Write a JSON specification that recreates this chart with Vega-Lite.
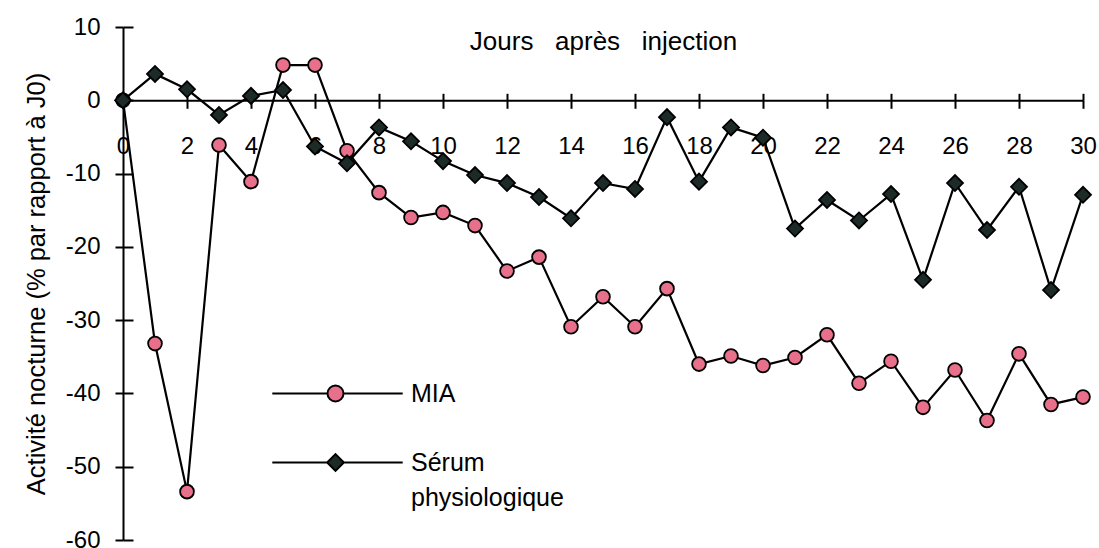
{
  "$schema": "https://vega.github.io/schema/vega-lite/v6.json",
  "width": 960,
  "height": 513,
  "autosize": {"type": "none"},
  "padding": {"left": 123, "top": 27, "right": 16, "bottom": 8},
  "background": "white",
  "config": {
    "view": {"stroke": null},
    "font": "Liberation Sans",
    "axis": {"domainColor": "black", "tickColor": "black", "labelColor": "black", "titleColor": "black", "grid": false, "domainWidth": 2, "tickWidth": 2, "labelFontWeight": "normal", "titleFontWeight": "normal", "labelFont": "Liberation Sans", "titleFont": "Liberation Sans"},
    "legend": {"labelFont": "Liberation Sans", "labelColor": "black"},
    "style": {"guide-label": {"lineHeight": 35}}
  },
  "data": {
    "values": [
      {"day": 0, "serie": "MIA", "v": 0},
      {"day": 1, "serie": "MIA", "v": -33.2},
      {"day": 2, "serie": "MIA", "v": -53.4},
      {"day": 3, "serie": "MIA", "v": -6.1},
      {"day": 4, "serie": "MIA", "v": -11.1},
      {"day": 5, "serie": "MIA", "v": 4.8},
      {"day": 6, "serie": "MIA", "v": 4.8},
      {"day": 7, "serie": "MIA", "v": -6.9},
      {"day": 8, "serie": "MIA", "v": -12.6},
      {"day": 9, "serie": "MIA", "v": -16.0},
      {"day": 10, "serie": "MIA", "v": -15.3},
      {"day": 11, "serie": "MIA", "v": -17.1},
      {"day": 12, "serie": "MIA", "v": -23.3},
      {"day": 13, "serie": "MIA", "v": -21.4},
      {"day": 14, "serie": "MIA", "v": -30.9},
      {"day": 15, "serie": "MIA", "v": -26.8},
      {"day": 16, "serie": "MIA", "v": -30.9},
      {"day": 17, "serie": "MIA", "v": -25.7},
      {"day": 18, "serie": "MIA", "v": -36.0},
      {"day": 19, "serie": "MIA", "v": -34.9},
      {"day": 20, "serie": "MIA", "v": -36.2},
      {"day": 21, "serie": "MIA", "v": -35.1},
      {"day": 22, "serie": "MIA", "v": -32.0},
      {"day": 23, "serie": "MIA", "v": -38.6},
      {"day": 24, "serie": "MIA", "v": -35.6},
      {"day": 25, "serie": "MIA", "v": -41.9},
      {"day": 26, "serie": "MIA", "v": -36.8},
      {"day": 27, "serie": "MIA", "v": -43.7},
      {"day": 28, "serie": "MIA", "v": -34.6},
      {"day": 29, "serie": "MIA", "v": -41.5},
      {"day": 30, "serie": "MIA", "v": -40.5},
      {"day": 0, "serie": "Sérum physiologique", "v": 0},
      {"day": 1, "serie": "Sérum physiologique", "v": 3.6},
      {"day": 2, "serie": "Sérum physiologique", "v": 1.5},
      {"day": 3, "serie": "Sérum physiologique", "v": -2.0},
      {"day": 4, "serie": "Sérum physiologique", "v": 0.6},
      {"day": 5, "serie": "Sérum physiologique", "v": 1.4},
      {"day": 6, "serie": "Sérum physiologique", "v": -6.3},
      {"day": 7, "serie": "Sérum physiologique", "v": -8.6},
      {"day": 8, "serie": "Sérum physiologique", "v": -3.7},
      {"day": 9, "serie": "Sérum physiologique", "v": -5.6},
      {"day": 10, "serie": "Sérum physiologique", "v": -8.3},
      {"day": 11, "serie": "Sérum physiologique", "v": -10.2},
      {"day": 12, "serie": "Sérum physiologique", "v": -11.3},
      {"day": 13, "serie": "Sérum physiologique", "v": -13.2},
      {"day": 14, "serie": "Sérum physiologique", "v": -16.1},
      {"day": 15, "serie": "Sérum physiologique", "v": -11.3},
      {"day": 16, "serie": "Sérum physiologique", "v": -12.1},
      {"day": 17, "serie": "Sérum physiologique", "v": -2.3},
      {"day": 18, "serie": "Sérum physiologique", "v": -11.1},
      {"day": 19, "serie": "Sérum physiologique", "v": -3.7},
      {"day": 20, "serie": "Sérum physiologique", "v": -5.1},
      {"day": 21, "serie": "Sérum physiologique", "v": -17.5},
      {"day": 22, "serie": "Sérum physiologique", "v": -13.6},
      {"day": 23, "serie": "Sérum physiologique", "v": -16.4},
      {"day": 24, "serie": "Sérum physiologique", "v": -12.8},
      {"day": 25, "serie": "Sérum physiologique", "v": -24.5},
      {"day": 26, "serie": "Sérum physiologique", "v": -11.3},
      {"day": 27, "serie": "Sérum physiologique", "v": -17.7},
      {"day": 28, "serie": "Sérum physiologique", "v": -11.8},
      {"day": 29, "serie": "Sérum physiologique", "v": -25.9},
      {"day": 30, "serie": "Sérum physiologique", "v": -12.9}
    ]
  },
  "layer": [
    {
      "mark": {"type": "line", "color": "black", "strokeWidth": 2.2},
      "encoding": {
        "detail": {"field": "serie"},
        "x": {
          "field": "day", "type": "quantitative",
          "scale": {"domain": [0, 30], "nice": false, "zero": false},
          "axis": {"orient": "bottom", "offset": -439.7, "values": [0, 2, 4, 6, 8, 10, 12, 14, 16, 18, 20, 22, 24, 26, 28, 30], "tickSize": 8, "labelPadding": 26, "labelFontSize": 24, "title": null, "labelFlush": false, "labelOverlap": false}
        },
        "y": {
          "field": "v", "type": "quantitative",
          "scale": {"domain": [-60, 10], "nice": false},
          "axis": {"orient": "left", "values": [-60, -50, -40, -30, -20, -10, 0, 10], "tickSize": 8, "labelPadding": 15, "labelFontSize": 24, "labelExpr": "toString(datum.value)", "title": "Activité nocturne (% par rapport à J0)", "titleFontSize": 25.5, "titlePadding": 16, "labelFlush": false, "labelOverlap": false}
        }
      }
    },
    {
      "mark": {"type": "point", "filled": true, "stroke": "black", "strokeWidth": 1.8, "opacity": 1},
      "encoding": {
        "x": {
          "field": "day", "type": "quantitative",
          "scale": {"domain": [0, 30], "nice": false, "zero": false},
          "axis": {"orient": "top", "offset": -73.3, "values": [0, 2, 4, 6, 8, 10, 12, 14, 16, 18, 20, 22, 24, 26, 28, 30], "tickSize": 7, "labels": false, "domain": false, "title": "Jours\u00a0\u00a0\u00a0après\u00a0\u00a0\u00a0injection", "titleFontSize": 26, "titlePadding": 38}
        },
        "y": {
          "field": "v", "type": "quantitative",
          "scale": {"domain": [-60, 10], "nice": false},
          "axis": {"orient": "right", "offset": -960, "values": [-60, -50, -40, -30, -20, -10, 0, 10], "tickSize": 10, "labels": false, "domain": false, "title": null}
        },
        "fill": {
          "field": "serie", "type": "nominal",
          "scale": {"domain": ["MIA", "Sérum physiologique"], "range": ["#e8708a", "#1c2b28"]},
          "legend": null
        },
        "shape": {
          "field": "serie", "type": "nominal",
          "scale": {"domain": ["MIA", "Sérum physiologique"], "range": ["circle", "diamond"]},
          "legend": null
        },
        "size": {
          "field": "serie", "type": "ordinal",
          "scale": {"domain": ["MIA", "Sérum physiologique"], "range": [190, 256]},
          "legend": null
        }
      }
    },
    {
      "transform": [{"filter": "datum.day < 0"}],
      "mark": {"type": "point", "filled": true, "strokeWidth": 2, "opacity": 1, "size": 256},
      "encoding": {
        "x": {"field": "day", "type": "quantitative", "scale": {"domain": [0, 30], "nice": false, "zero": false}, "axis": null},
        "y": {"field": "v", "type": "quantitative", "scale": {"domain": [-60, 10], "nice": false}, "axis": null},
        "color": {
          "field": "serie", "type": "nominal",
          "scale": {"domain": ["MIA", "Sérum physiologique"], "range": ["#e8708a", "#1c2b28"]},
          "legend": {
            "orient": "none", "legendX": 200, "legendY": 354, "title": null, "padding": 0,
            "symbolSize": 256, "labelOffset": 63, "labelFontSize": 25, "rowPadding": 43,
            "symbolOpacity": 1, "symbolStrokeColor": "black", "symbolStrokeWidth": 2,
            "labelExpr": "datum.value == 'MIA' ? 'MIA' : ['Sérum', 'physiologique']"
          }
        },
        "stroke": {
          "field": "serie", "type": "nominal",
          "scale": {"domain": ["MIA", "Sérum physiologique"], "range": ["#000000", "#000000"]},
          "legend": {
            "orient": "none", "legendX": 200, "legendY": 354, "title": null, "padding": 0,
            "symbolSize": 256, "labelOffset": 63, "labelFontSize": 25, "rowPadding": 43,
            "symbolOpacity": 1, "symbolStrokeWidth": 2,
            "labelExpr": "datum.value == 'MIA' ? 'MIA' : ['Sérum', 'physiologique']"
          }
        },
        "shape": {
          "field": "serie", "type": "nominal",
          "scale": {"domain": ["MIA", "Sérum physiologique"], "range": ["M-7.9,0H-1M1,0H8.4M-1,0A1,1,0,1,1,1,0A1,1,0,1,1,-1,0Z", "M-7.9,0H-1.05M1.05,0H8.4M0,-1.05L1.05,0L0,1.05L-1.05,0Z"]},
          "legend": {
            "orient": "none", "legendX": 200, "legendY": 354, "title": null, "padding": 0,
            "symbolSize": 256, "labelOffset": 63, "labelFontSize": 25, "rowPadding": 43,
            "symbolOpacity": 1, "symbolStrokeColor": "black", "symbolStrokeWidth": 2,
            "labelExpr": "datum.value == 'MIA' ? 'MIA' : ['Sérum', 'physiologique']"
          }
        }
      }
    }
  ],
  "resolve": {"axis": {"x": "independent", "y": "independent"}, "scale": {"shape": "independent", "color": "independent", "stroke": "independent"}, "legend": {"shape": "independent", "color": "independent", "stroke": "independent"}}
}
